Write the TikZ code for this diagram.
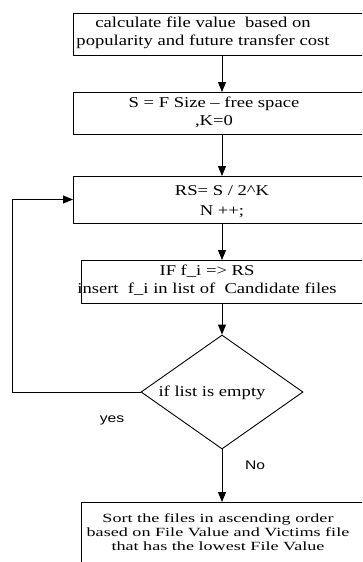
\documentclass[tikz,border=0pt]{standalone}
\usepackage{fontspec}
\setmainfont{Liberation Serif}[FakeStretch=1.24]
\setsansfont{Liberation Sans}[FakeStretch=1.25]
\newfontfamily\sortfont{Liberation Serif}[FakeStretch=1.45]
\usepackage{tikz}
\usetikzlibrary{arrows.meta, calc, shapes.geometric, positioning}

\begin{document}
\begin{tikzpicture}[x=1pt, y=-1pt, % one unit = one pixel, y downwards
         > = {Triangle[length=10pt, width=8pt]}, % defined in "arrows.meta"
         line width=0.9pt,
box/.style = {draw, minimum width=298pt, minimum height=42pt,
              inner sep=0pt, outer sep=0pt},
txt/.style = {align=center, inner sep=0pt,
              font=\fontsize{15}{18}\selectfont},
dec/.style = {draw, diamond, aspect=1.42, inner sep=0pt,
              minimum width=162pt, minimum height=114pt},
note/.style = {inner sep=0pt, font=\sffamily\fontsize{12.5}{14}\selectfont}
                        ]
	\path[use as bounding box, clip] (0,0) rectangle (362,562);

	% boxes
	\node[box] (v) at (222,34) {};
	\node[box] (s) at (222,113) {};
	\node[box, minimum height=47pt] (rs) at (222,199.5) {};
	\node[box, minimum width=282pt, minimum height=43pt] (ins) at (222,281.5) {};
	\node[dec] (chk) at (222,392) {};
	\node[box, minimum width=282pt, minimum height=70pt] (srt) at (222,537) {};

	% texts
	\node[txt] (vt) at (203,33) {calculate file value\ \ based on\\popularity and future transfer cost};
	\node[txt] (st) at (214,112.5) {S = F Size -- free space\\,K=0};
	\node[txt, font=\fontsize{15}{20}\selectfont] (rst) at (222,202) {RS= S / 2\^{}K\\N ++;};
	\node[txt] (inst) at (207,280) {IF f\_i => RS\\insert\ \ f\_i in list of\ \ Candidate files};
	\node[txt] (chkt) at (212,393) {if list is empty};
	\node[txt, font=\sortfont\fontsize{12.5}{14}\selectfont] (srtt) at (218,532)
	     {Sort the files in ascending order\\based on File Value and Victims file\\that has the lowest File Value};
	\node[note] (yes) at (112,420) {yes};
	\node[note] (no) at (255,465) {No};

	% connectors
	\coordinate (lp) at (12,392);
	\draw[->] (v) -- (s);
	\draw[->] (s) -- (rs);
	\draw[->] (rs) -- (ins);
	\draw[->] (ins) -- (chk);
	\draw[->] (chk) -- (srt);
	\draw[->] (chk.west) -- (lp) |- (rs.west);
\end{tikzpicture}
\end{document}
